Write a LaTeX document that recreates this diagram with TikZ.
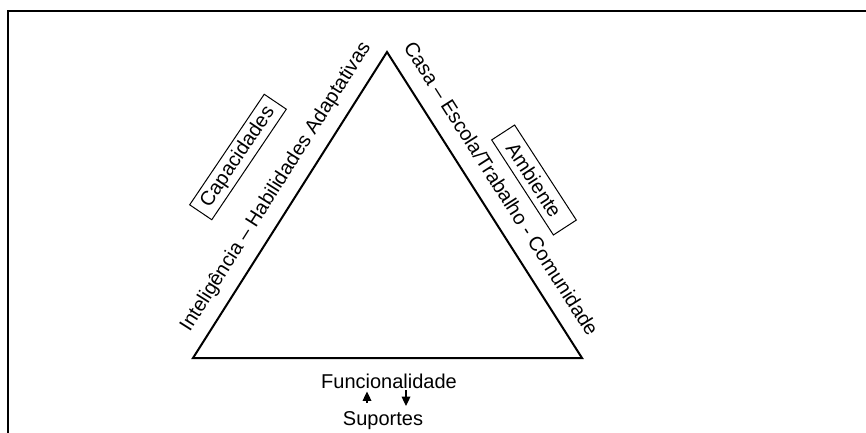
\documentclass[tikz,border=0pt]{standalone}
\usepackage{fontspec}
\setmainfont{Liberation Sans}
\usetikzlibrary{arrows.meta}
\tikzset{
  sidelabel/.style={inner sep=0pt},
  labelbox/.style={draw, line width=0.75pt, inner sep=0pt},
  updown/.style={line width=0.9pt, -{Triangle[width=6.5pt,length=7pt]}},
}
\begin{document}
\begin{tikzpicture}[x=0.75pt,y=-0.75pt, font=\fontsize{15}{18}\selectfont]
\useasboundingbox (0,0) rectangle (866,432);
\clip (0,0) rectangle (866,432);
\draw[line width=1.5pt] (8,11) rectangle (900,470);
\coordinate (A) at (387,52);
\coordinate (B) at (193,358);
\coordinate (C) at (582,358);
\draw[line width=1.5pt, line join=miter] (A) -- (B) -- (C) -- cycle;
\node[sidelabel, rotate=57.62] (left) at (276,187) {Inteligência – Habilidades Adaptativas};
\node[sidelabel, rotate=-57.49] (right) at (501.5,188.5) {Casa – Escola/Trabalho - Comunidade};
\node[labelbox, rotate=56, minimum width=100pt, minimum height=20pt] (cap) at (238,157) {Capacidades};
\node[labelbox, rotate=-57, minimum width=85pt, minimum height=20.5pt] (amb) at (534,180) {Ambiente};
\node[inner sep=0pt, anchor=base] (func) at (389,388) {Funcionalidade};
\node[inner sep=0pt, anchor=base] (sup) at (383,425) {Suportes};
\coordinate (u1) at (367,403);
\coordinate (u2) at (367,391.5);
\coordinate (d1) at (406,390);
\coordinate (d2) at (406,406);
\draw[updown] (u1) -- (u2);
\draw[updown] (d1) -- (d2);
\end{tikzpicture}
\end{document}
